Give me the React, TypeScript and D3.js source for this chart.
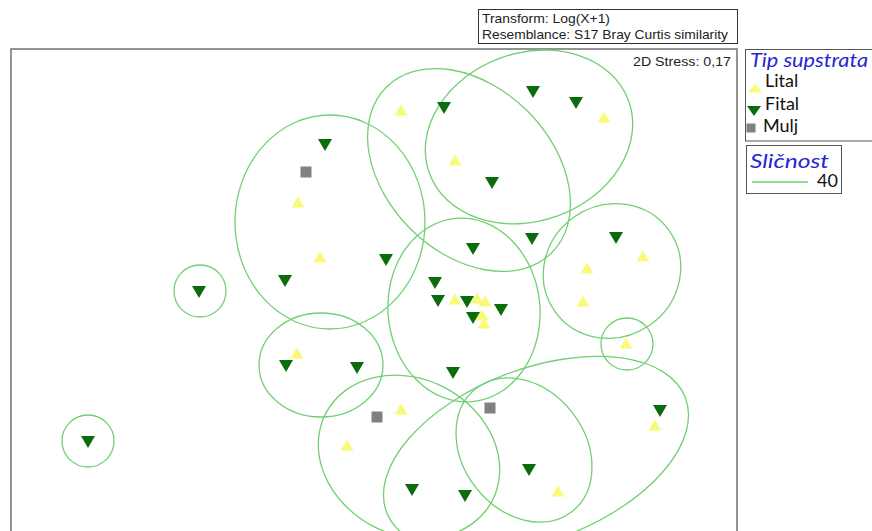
import * as d3 from 'd3';
import React, { useEffect, useRef } from 'react';

// nMDS coordinates (arbitrary units)
const litalPts: [number, number][] = [
	[0.27, 1.8], [2.3, 1.73], [0.81, 1.3], [-0.76, 0.88], [-0.54, 0.33], [2.69, 0.34],
	[2.13, 0.22], [2.09, -0.11], [0.81, -0.09], [1.03, -0.08], [1.11, -0.11], [1.08, -0.25],
	[1.1, -0.33], [2.52, -0.53], [-0.77, -0.63], [0.27, -1.19], [-0.27, -1.55], [2.81, -1.35],
	[1.84, -2.01],
];
const fitalPts: [number, number][] = [
	[-0.49, 1.45], [0.7, 1.82], [1.59, 1.98], [2.02, 1.87], [1.18, 1.07], [0.12, 0.3],
	[-0.89, 0.09], [-1.75, -0.02], [0.99, 0.41], [1.58, 0.51], [2.42, 0.52], [0.61, 0.07],
	[0.64, -0.11], [0.93, -0.12], [0.99, -0.28], [1.27, -0.2], [0.79, -0.83], [-0.88, -0.76],
	[-0.17, -0.78], [-2.86, -1.52], [0.38, -2.0], [0.91, -2.06], [1.55, -1.8], [2.86, -1.21],
];
const muljPts: [number, number][] = [
	[-0.68, 1.18], [0.03, -1.27], [1.16, -1.18],
];

// 40% similarity contours: [cx, cy, rx, ry, tilt in degrees]
const clusters: [number, number, number, number, number][] = [
	[-0.44, 0.68, 0.95, 1.07, 0],
	[0.95, 1.2, 1.17, 0.83, -45],
	[1.55, 1.53, 1.06, 0.84, 20],
	[0.9, -0.2, 0.76, 0.92, 5],
	[2.38, 0.19, 0.7, 0.66, 35],
	[2.53, -0.54, 0.26, 0.26, 0],
	[-1.74, -0.01, 0.26, 0.26, 0],
	[-2.86, -1.51, 0.26, 0.26, 0],
	[-0.53, -0.75, 0.62, 0.52, 0],
	[0.35, -1.67, 0.94, 0.78, -28],
	[1.5, -1.6, 0.78, 0.61, -52],
	[1.62, -1.65, 1.6, 0.86, 21],
];

const groupNames = ['Lital', 'Fital', 'Mulj'];
const stressLabel = '2D Stress: 0,17';
const transformLines = ['Transform: Log(X+1)', 'Resemblance: S17 Bray Curtis similarity'];
const similarityLevel = '40';

const YELLOW = '#fafa7a';
const DKGREEN = '#0a6c0a';
const GREY = '#808080';
const CONTOUR = '#72d072';
const BLUE = '#2626d2';

const triangle = (down: boolean, w: number, h: number) => ({
	draw(ctx: any) {
		const s = down ? -1 : 1;
		ctx.moveTo(0, (-s * h) / 2);
		ctx.lineTo(w / 2, (s * h) / 2);
		ctx.lineTo(-w / 2, (s * h) / 2);
		ctx.closePath();
	},
});
const square = (a: number) => ({
	draw(ctx: any) {
		ctx.rect(-a / 2, -a / 2, a, a);
	},
});

const App = () => {
	const ref = useRef<SVGSVGElement>(null);

	useEffect(() => {
		const svg = d3.select(ref.current);
		svg.selectAll('*').remove();

		const x = d3.scaleLinear().domain([-3.63, 3.63]).range([11, 737]);
		const y = d3.scaleLinear().domain([2.41, -2.41]).range([49, 531]);

		// header box
		svg.append('rect')
			.attr('x', 478.5).attr('y', 9.5).attr('width', 259).attr('height', 34)
			.attr('fill', 'none').attr('stroke', '#333').attr('stroke-width', 1);
		svg.append('g')
			.attr('font-family', '"Liberation Sans", Arial, sans-serif')
			.attr('font-size', 13.5)
			.attr('fill', '#222')
			.selectAll('text')
			.data(transformLines)
			.join('text')
			.attr('x', 482)
			.attr('y', (d, i) => 22.5 + i * 16.5)
			.attr('textLength', (d, i) => (i === 0 ? 128 : 246))
			.attr('lengthAdjust', 'spacingAndGlyphs')
			.text(d => d);

		// plot frame
		svg.append('rect')
			.attr('x', x.range()[0]).attr('y', y.range()[0])
			.attr('width', x.range()[1] - x.range()[0]).attr('height', 520)
			.attr('fill', 'none').attr('stroke', '#7a7a7a').attr('stroke-width', 1.6);

		svg.append('text')
			.attr('x', 633).attr('y', 66)
			.attr('font-family', '"Liberation Sans", Arial, sans-serif')
			.attr('font-size', 13)
			.attr('fill', '#222')
			.attr('textLength', 98)
			.attr('lengthAdjust', 'spacingAndGlyphs')
			.text(stressLabel);

		// similarity contours
		svg.append('g')
			.selectAll('ellipse')
			.data(clusters)
			.join('ellipse')
			.attr('transform', d => `translate(${x(d[0])},${y(d[1])}) rotate(${-d[4]})`)
			.attr('rx', d => x(d[2]) - x(0))
			.attr('ry', d => y(0) - y(d[3]))
			.attr('fill', 'none')
			.attr('stroke', CONTOUR)
			.attr('stroke-width', 1.3);

		const pts = svg.append('g');
		const upSym = d3.symbol().type(triangle(false, 13, 11) as any);
		const downSym = d3.symbol().type(triangle(true, 14, 12) as any);
		const sqSym = d3.symbol().type(square(11) as any);

		pts.append('g').selectAll('path').data(litalPts).join('path')
			.attr('transform', d => `translate(${x(d[0])},${y(d[1])})`)
			.attr('d', upSym() as string)
			.attr('fill', YELLOW);
		pts.append('g').selectAll('path').data(fitalPts).join('path')
			.attr('transform', d => `translate(${x(d[0])},${y(d[1])})`)
			.attr('d', downSym() as string)
			.attr('fill', DKGREEN);
		pts.append('g').selectAll('path').data(muljPts).join('path')
			.attr('transform', d => `translate(${x(d[0])},${y(d[1])})`)
			.attr('d', sqSym() as string)
			.attr('fill', GREY);

		// legend: groups
		const lg = svg.append('g').attr('font-family', 'Lato, "Noto Sans", sans-serif');
		lg.append('rect')
			.attr('x', 745.5).attr('y', 49.5).attr('width', 140).attr('height', 91.5)
			.attr('fill', 'none').attr('stroke', '#555').attr('stroke-width', 1);
		lg.append('text')
			.attr('x', 750).attr('y', 67)
			.attr('font-size', 20).attr('font-style', 'italic').attr('fill', BLUE)
			.attr('textLength', 118).attr('lengthAdjust', 'spacingAndGlyphs')
			.text('Tip supstrata');
		const legendSyms = [
			d3.symbol().type(triangle(false, 14, 9) as any)(),
			d3.symbol().type(triangle(true, 14, 10) as any)(),
			d3.symbol().type(square(9) as any)(),
		];
		const legendFill = [YELLOW, DKGREEN, GREY];
		const legendSymPos = [[755, 88], [754, 111], [751, 128]];
		const rows = lg.selectAll('g.row').data(groupNames).join('g').attr('class', 'row');
		rows.append('path')
			.attr('transform', (d, i) => `translate(${legendSymPos[i][0]},${legendSymPos[i][1]})`)
			.attr('d', (d, i) => legendSyms[i] as string)
			.attr('fill', (d, i) => legendFill[i]);
		rows.append('text')
			.attr('x', (d, i) => (i === 2 ? 763 : 765))
			.attr('y', (d, i) => [87, 110, 132][i])
			.attr('font-size', 18)
			.attr('fill', '#111')
			.text(d => d);

		// legend: similarity
		lg.append('rect')
			.attr('x', 746.5).attr('y', 145.5).attr('width', 95).attr('height', 48)
			.attr('fill', 'none').attr('stroke', '#555').attr('stroke-width', 1);
		lg.append('text')
			.attr('x', 750).attr('y', 168)
			.attr('font-size', 20).attr('font-style', 'italic').attr('fill', BLUE)
			.attr('textLength', 79).attr('lengthAdjust', 'spacingAndGlyphs')
			.text('Sli\u010dnost');
		lg.append('line')
			.attr('x1', 752).attr('x2', 808).attr('y1', 182).attr('y2', 182)
			.attr('stroke', CONTOUR).attr('stroke-width', 1.3);
		lg.append('text')
			.attr('x', 817).attr('y', 187)
			.attr('font-size', 18).attr('fill', '#111')
			.text(similarityLevel);
	}, []);

	return (
		<svg
			ref={ref}
			width={872}
			height={531}
			style={{ position: 'absolute', left: 0, top: 0, background: '#fff' }}
		/>
	);
};

export default App;
